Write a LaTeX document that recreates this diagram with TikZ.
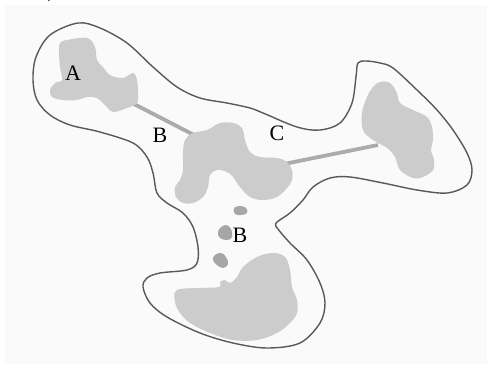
\documentclass[tikz,border=0pt]{standalone}
\usepackage{fontspec}
\setmainfont{Liberation Serif}
\begin{document}
\begin{tikzpicture}[x=1pt,y=-1pt,
  outline/.style={draw=black!65,line width=1.4pt},
  grain/.style={fill=black!20},
  pore/.style={fill=black!35},
  bridge/.style={draw=black!33,line width=3.8pt},
  lab/.style={font=\fontsize{22}{26}\selectfont,inner sep=0pt}]
\useasboundingbox (0,0) rectangle (487,364);
\fill[white] (0,0) rectangle (487,364);
\fill[black!2] (5,5) rectangle (487,364);
\node[font=\fontsize{20}{24}\selectfont,anchor=base,inner sep=0pt] (par) at (51,-2) {)};

% enclosing outline
\draw[outline] plot[smooth cycle,tension=0.55] coordinates {
 (78,23) (100,28) (127,43) (153,67) (177,87) (200,98) (227,103) (250,108)
 (263,113) (297,127) (320,130) (340,123) (352,103) (356,77) (358,63) (366,61)
 (380,63) (393,68) (417,90) (437,110) (453,130) (467,153) (472,170) (467,185)
 (447,193) (417,190) (383,183) (350,177) (330,178) (313,187) (303,200) (290,213)
 (276,223) (278,229) (290,243) (307,260) (320,283) (325,303) (320,323) (300,343)
 (267,348) (233,343) (200,333) (167,317) (150,303) (143,287) (147,278) (160,273)
 (187,270) (197,263) (198,247) (193,227) (183,213) (167,203) (157,193) (153,173)
 (147,157) (133,143) (100,132) (70,125) (50,115) (37,100) (33,80) (36,57) (50,35)};

% connecting bridges
\coordinate (a1) at (134,104);
\coordinate (c1) at (196,136);
\coordinate (c2) at (284,164);
\coordinate (r1) at (378,145);
\draw[bridge] (a1) -- (c1);
\draw[bridge] (c2) -- (r1);

% grain A
\fill[grain] plot[smooth cycle,tension=0.6] coordinates {
 (60,43) (67,40) (87,38) (95,47) (97,60) (103,67) (110,75) (123,78) (133,73)
 (137,80) (138,93) (137,103) (127,108) (113,112) (107,107) (97,98) (87,97)
 (77,100) (63,100) (52,97) (50,90) (55,83) (62,80) (60,67) (59,53)};

% central grain
\fill[grain] plot[smooth cycle,tension=0.6] coordinates {
 (193,133) (207,130) (220,123) (233,123) (242,128) (245,140) (250,152) (260,157)
 (277,158) (287,162) (292,170) (292,180) (287,188) (277,197) (263,200) (250,197)
 (240,187) (233,177) (227,172) (217,170) (210,175) (208,187) (203,197) (193,203)
 (183,203) (176,197) (175,187) (180,180) (183,170) (183,153) (185,140)};

% right grain
\fill[grain] plot[smooth cycle,tension=0.6] coordinates {
 (373,87) (380,82) (390,83) (397,93) (400,103) (413,110) (427,117) (432,127)
 (433,140) (431,150) (434,160) (433,170) (423,177) (413,178) (400,170) (395,157)
 (387,148) (373,140) (363,130) (362,113) (367,97)};

% lower grain
\fill[grain] plot[smooth cycle,tension=0.6] coordinates {
 (177,290) (200,288) (219,287) (220,282) (225,280) (230,283) (237,277) (243,267)
 (257,257) (273,253) (285,257) (290,270) (292,287) (297,300) (297,313) (290,323)
 (277,333) (257,340) (233,340) (210,333) (190,323) (180,313) (175,302)};

% small pores
\fill[pore] plot[smooth cycle,tension=0.7] coordinates {
 (234,208) (240,206) (246,208) (247,213) (241,215) (235,214)};
\fill[pore] plot[smooth cycle,tension=0.7] coordinates {
 (220,228) (226,225) (231,229) (232,237) (227,240) (220,238) (218,233)};
\fill[pore] plot[smooth cycle,tension=0.7] coordinates {
 (215,255) (221,253) (226,257) (228,264) (223,268) (217,265) (213,260)};

% labels
\node[lab] (la) at (73,73) {A};
\node[lab] (lb1) at (160,135) {B};
\node[lab] (lc) at (277,133) {C};
\node[lab] (lb2) at (240,235) {B};
\end{tikzpicture}
\end{document}
